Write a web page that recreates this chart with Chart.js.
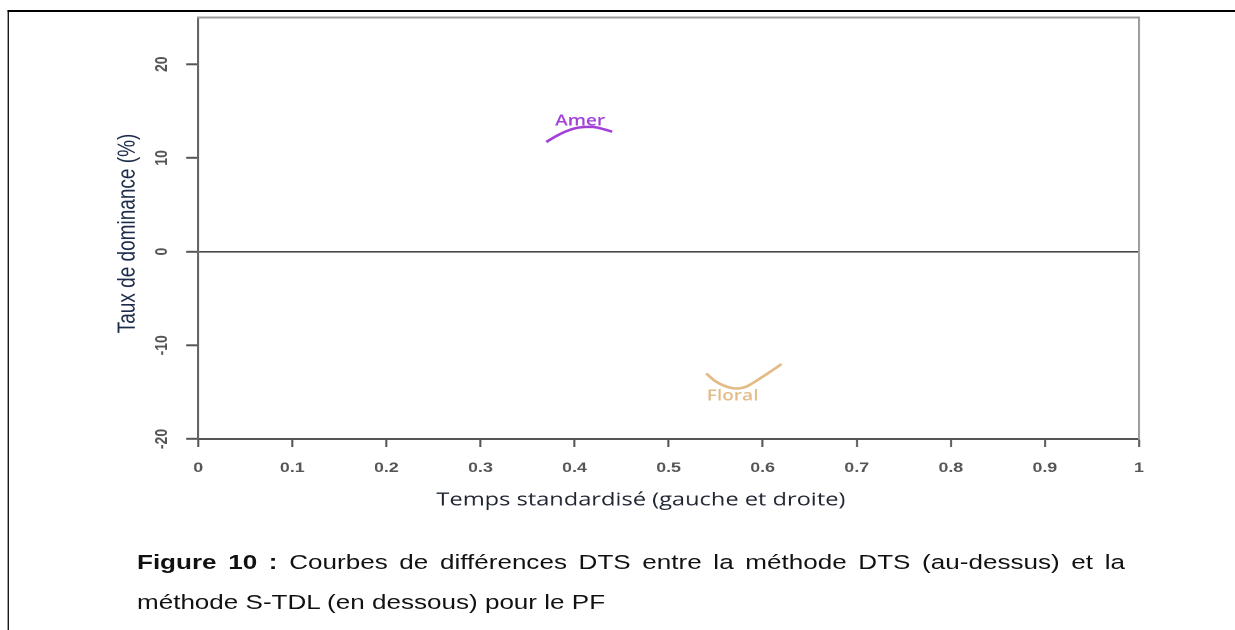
<!DOCTYPE html>
<html lang="fr">
<head>
<meta charset="utf-8">
<title>Figure 10 - Courbes de différences DTS</title>
<script src="https://cdn.jsdelivr.net/npm/chart.js@4/dist/chart.umd.min.js"></script>
<style>
    html, body { margin: 0; padding: 0; background: #fff; }
    body { width: 1235px; height: 630px; overflow: hidden; position: relative; }
    /* the source picture is stretched sideways, so the page is drawn narrow then widened */
    #page {
        position: absolute; left: 0; top: 0;
        width: 972px; height: 630px;
        transform: scaleX(1.27058); transform-origin: 0 0;
    }
    #frame {
        position: absolute; left: 5.5px; top: 10px;
        width: 980px; height: 640px;
        border-top: 2px solid #000; border-left: 1.6px solid #000;
    }
    #chart { position: absolute; left: 0; top: 0; }
    .caption {
        position: absolute; left: 107.8px; width: 777.6px;
        font-family: "Liberation Sans", Arial, sans-serif;
        font-size: 20.5px; line-height: 40px; color: #111;
        white-space: nowrap;
    }
    #cap1 { top: 542px; text-align: justify; text-align-last: justify; white-space: normal; }
    #cap2 { top: 582px; text-align: left; }
</style>
</head>
<body>
<div id="page">
    <div id="frame"></div>
    <canvas id="chart" width="972" height="520"></canvas>
    <div class="caption" id="cap1"><b>Figure 10 :</b> Courbes de différences DTS entre la méthode DTS (au-dessus) et la</div>
    <div class="caption" id="cap2">méthode S-TDL (en dessous) pour le PF</div>
</div>
<script>
// axes
const xTickValues = [0, 0.1, 0.2, 0.3, 0.4, 0.5, 0.6, 0.7, 0.8, 0.9, 1];
const xTickLabels = ['0', '0.1', '0.2', '0.3', '0.4', '0.5', '0.6', '0.7', '0.8', '0.9', '1'];
const yTickValues = [-20, -10, 0, 10, 20];
const yTickLabels = ['-20', '-10', '0', '10', '20'];

// curves
const amerX = [0.37, 0.38, 0.39, 0.40, 0.41, 0.42, 0.43, 0.44];
const amerY = [11.7, 12.3, 12.8, 13.15, 13.3, 13.3, 13.1, 12.8];
const floralX = [0.54, 0.55, 0.56, 0.57, 0.58, 0.59, 0.60, 0.61, 0.62];
const floralY = [-13.0, -13.85, -14.35, -14.6, -14.5, -14.0, -13.35, -12.7, -12.0];

// curve names, anchored in value space
const seriesNames = ['Amer', 'Floral'];
const nameX = [0.406, 0.568];
const nameY = [13.44, -15.9];

const colors = ['#a23fd6', '#e2bb86'];

const toPoints = (xs, ys) => xs.map((x, i) => ({ x: x, y: ys[i] }));

// writes the curve names next to their curves
const curveNames = {
    id: 'curveNames',
    afterDatasetsDraw(chart) {
        const { ctx, scales } = chart;
        ctx.save();
        ctx.font = '600 15px "Open Sans", sans-serif';
        ctx.textAlign = 'center';
        ctx.textBaseline = 'alphabetic';
        seriesNames.forEach((name, i) => {
            ctx.fillStyle = colors[i];
            ctx.fillText(name, scales.x.getPixelForValue(nameX[i]), scales.y.getPixelForValue(nameY[i]));
        });
        ctx.restore();
    }
};

const tickFont = { family: '"Liberation Sans", Arial, sans-serif', size: 14, weight: 'bold' };
const pad = '\u00a0';

new Chart(document.getElementById('chart'), {
    type: 'line',
    data: {
        datasets: [
            { label: seriesNames[0], data: toPoints(amerX, amerY), borderColor: colors[0], borderWidth: 2.5, pointRadius: 0, tension: 0.4, fill: false },
            { label: seriesNames[1], data: toPoints(floralX, floralY), borderColor: colors[1], borderWidth: 2.5, pointRadius: 0, tension: 0.4, fill: false }
        ]
    },
    options: {
        responsive: false,
        devicePixelRatio: 2,
        animation: false,
        events: [],
        layout: { autoPadding: false, padding: { left: 0, right: 75.6, top: 16, bottom: 0 } },
        plugins: { legend: { display: false }, tooltip: { enabled: false } },
        scales: {
            x: {
                type: 'linear', position: 'bottom', min: 0, max: 1,
                afterBuildTicks: (s) => { s.ticks = xTickValues.map(v => ({ value: v })); },
                afterFit: (s) => { s.height = 81; },
                ticks: { callback: (v, i) => xTickLabels[i], color: '#555', font: tickFont, padding: 12.6, maxRotation: 0, autoSkip: false },
                grid: { drawOnChartArea: false, tickLength: 8, tickColor: '#555', tickWidth: 1.6 },
                border: { color: '#555', width: 2 },
                title: {
                    // trailing spaces pull the title a little left, as in the source
                    display: true, text: 'Temps standardisé (gauche et droite)' + pad.repeat(9), color: '#1e2430',
                    font: { family: '"Open Sans", sans-serif', size: 18.6 }, padding: { top: 0, bottom: 8.8 }
                }
            },
            y: {
                type: 'linear', position: 'left', min: -20, max: 25,
                afterBuildTicks: (s) => { s.ticks = yTickValues.map(v => ({ value: v })); },
                afterFit: (s) => { s.width = 156; },
                ticks: { callback: (v, i) => yTickLabels[i], color: '#555', font: tickFont, padding: 9, minRotation: 90, maxRotation: 90, crossAlign: 'center' },
                grid: {
                    color: (c) => (c.tick && c.tick.value === 0 ? '#4a4a4a' : 'rgba(0,0,0,0)'),
                    lineWidth: 1.6, tickLength: 9.4, tickColor: '#555', tickWidth: 2
                },
                border: { color: '#666', width: 1.6 },
                title: {
                    display: true, text: 'Taux de dominance (%)' + pad.repeat(2), color: '#1c2b4a',
                    font: { family: '"Liberation Sans", Arial, sans-serif', size: 19 }, padding: { top: 89.3, bottom: 0 }
                }
            },
            xTop: {
                type: 'linear', position: 'top', min: 0, max: 1,
                afterFit: (s) => { s.height = 0; },
                ticks: { display: false },
                grid: { display: false, drawTicks: false },
                border: { color: '#999', width: 2 }
            },
            yRight: {
                type: 'linear', position: 'right', min: -20, max: 25,
                afterFit: (s) => { s.width = 0; },
                ticks: { display: false },
                grid: { display: false, drawTicks: false },
                border: { color: '#999', width: 1.6 }
            }
        }
    },
    plugins: [curveNames]
});
</script>
</body>
</html>
